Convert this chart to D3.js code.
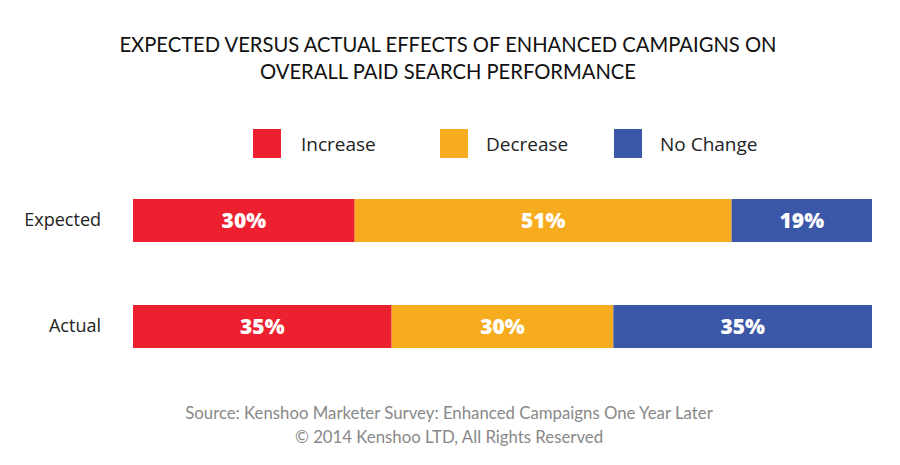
<!DOCTYPE html>
<html><head><meta charset="utf-8">
<script src="https://cdn.jsdelivr.net/npm/d3@7"></script>
<style>body{margin:0;background:#fff;} svg{display:block;}</style>
</head><body>
<script>
const categories = ["Expected", "Actual"];
const seriesNames = ["Increase", "Decrease", "No Change"];
const increaseValues = [30, 35];
const decreaseValues = [51, 30];
const noChangeValues = [19, 35];
const colors = ["#ED2030", "#F6AC1E", "#3B58A8"];
const titleLines = ["EXPECTED VERSUS ACTUAL EFFECTS OF ENHANCED CAMPAIGNS ON", "OVERALL PAID SEARCH PERFORMANCE"];
const footerLines = ["Source: Kenshoo Marketer Survey: Enhanced Campaigns One Year Later", "© 2014 Kenshoo LTD, All Rights Reserved"];

const W = 900, H = 465;
const svg = d3.select("body").append("svg").attr("width", W).attr("height", H);

const rows = categories.map((c, i) => ({cat: c, Increase: increaseValues[i], Decrease: decreaseValues[i], "No Change": noChangeValues[i]}));
const stack = d3.stack().keys(seriesNames)(rows);

const x = d3.scaleLinear().domain([0, 100]).range([133, 872]);
const y = d3.scaleBand().domain(categories).range([199, 348]).paddingInner(63 / 106).paddingOuter(0);
const color = d3.scaleOrdinal().domain(seriesNames).range(colors);

// title
svg.append("g").selectAll("text").data(titleLines).join("text")
  .attr("x", 448).attr("y", (d, i) => 52 + i * 27)
  .attr("text-anchor", "middle").attr("font-family", "Lato, sans-serif")
  .attr("font-size", 20.2).attr("fill", "#111").text(d => d);

// legend
const legX = [253, 440, 614];
const lg = svg.append("g").selectAll("g").data(seriesNames).join("g")
  .attr("transform", (d, i) => `translate(${legX[i]},129)`);
lg.append("rect").attr("width", 28).attr("height", 29).attr("fill", d => color(d));
lg.append("text").attr("x", d => d === "Increase" ? 48 : 46).attr("y", 22)
  .attr("font-family", "'Open Sans', sans-serif").attr("font-size", 19).attr("fill", "#222").text(d => d);

// bars
const layers = svg.append("g").selectAll("g").data(stack).join("g").attr("fill", d => color(d.key));
layers.selectAll("rect").data(d => d).join("rect")
  .attr("x", d => x(d[0])).attr("width", d => x(d[1]) - x(d[0]))
  .attr("y", d => y(d.data.cat)).attr("height", y.bandwidth());

// value labels
layers.selectAll("text").data(d => d.map(v => ({v, key: d.key}))).join("text")
  .attr("x", d => (x(d.v[0]) + x(d.v[1])) / 2)
  .attr("y", d => y(d.v.data.cat) + y.bandwidth() / 2 + 7)
  .attr("text-anchor", "middle").attr("fill", "#fff")
  .attr("font-family", "'Open Sans', sans-serif").attr("font-weight", 800).attr("font-size", 21)
  .text(d => (d.v[1] - d.v[0]) + "%");

// category axis
const yAxis = svg.append("g").attr("transform", "translate(101,0)")
  .call(d3.axisLeft(y).tickSize(0).tickPadding(0));
yAxis.select(".domain").remove();
yAxis.selectAll("text").attr("font-family", "'Open Sans', sans-serif").attr("font-size", 18).attr("fill", "#222");

// footer
svg.append("g").selectAll("text").data(footerLines).join("text")
  .attr("x", 449).attr("y", (d, i) => 419 + i * 24)
  .attr("text-anchor", "middle").attr("font-family", "Lato, sans-serif")
  .attr("font-size", 16.8).attr("fill", "#888").text(d => d);
</script>
</body></html>
